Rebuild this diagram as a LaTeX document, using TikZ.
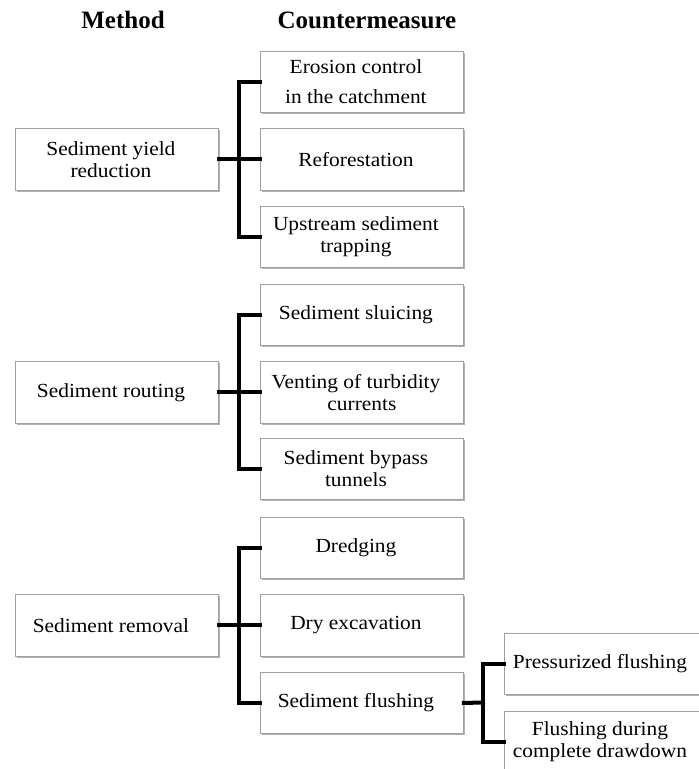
\documentclass[tikz,border=0pt]{standalone}
\usepackage{fontspec}
\setmainfont[FakeStretch=1.07]{Liberation Serif}
\newfontfamily\headfont{Liberation Serif}
\usetikzlibrary{shadows}
\definecolor{boxline}{HTML}{A0A0A0}
\newcommand\lft[1]{#1\kern12pt}
\tikzset{
  box/.style={draw=boxline, line width=0.9pt, fill=white, anchor=north west,
    minimum width=203pt, minimum height=62pt, inner sep=0pt, align=center,
    font=\fontsize{20}{22}\selectfont,
    drop shadow={shadow xshift=1.3pt, shadow yshift=-1.3pt, opacity=0.3, fill=black}},
  head/.style={font=\headfont\bfseries\fontsize{25}{28}\selectfont, anchor=base, inner sep=0pt},
  conn/.style={line width=4pt, black, line join=miter, line cap=rect},
}
\begin{document}
\begin{tikzpicture}[x=1pt, y=-1pt]
\useasboundingbox (0,0) rectangle (699,769);
\node[head] (hm) at (123,28.5) {Method};
\node[head] (hc) at (367,28.5) {Countermeasure};

% group 1
\node[box] (m1) at (15,128) {\lft{Sediment yield}\\\lft{reduction}};
\node[box, minimum height=61pt] (c1) at (260,51) {\lft{Erosion control}\\[8pt]\lft{in the catchment}};
\node[box] (c2) at (260,128) {\lft{Reforestation}};
\node[box, minimum height=61pt] (c3) at (260,206) {\lft{Upstream sediment}\\\lft{trapping}};
% group 2
\node[box] (m2) at (15,361) {\lft{Sediment routing}};
\node[box, minimum height=61pt] (c4) at (260,284) {\lft{Sediment sluicing}};
\node[box] (c5) at (260,361) {\lft{Venting of turbidity}\\currents};
\node[box, minimum height=61pt] (c6) at (260,438) {\lft{Sediment bypass}\\\lft{tunnels}};
% group 3
\node[box] (m3) at (15,594) {\lft{Sediment removal}};
\node[box, minimum height=61pt] (c7) at (260,517) {\lft{Dredging}};
\node[box] (c8) at (260,594) {\lft{Dry excavation}};
\node[box, minimum height=61pt] (c9) at (260,672) {\lft{Sediment flushing}};
\node[box, minimum height=61pt] (s1) at (504,633) {\lft{Pressurized flushing}};
\node[box, minimum height=61pt] (s2) at (504,711) {\lft{Flushing during}\\\lft{complete drawdown}};

% connectors
\coordinate (b1) at (238.5,159);
\coordinate (b2) at (238.5,392);
\coordinate (b3) at (238.5,625);
\coordinate (b4) at (483,702.5);
\draw[conn] (c1.west) -| (b1) |- (c3.west);
\draw[conn] (m1.east) -- (c2.west);
\draw[conn] (c4.west) -| (b2) |- (c6.west);
\draw[conn] (m2.east) -- (c5.west);
\draw[conn] (c7.west) -| (b3) |- (c9.west);
\draw[conn] (m3.east) -- (c8.west);
\draw[conn] (s1.west) -| (b4) |- (s2.west);
\draw[conn] (c9.east) -- (b4);
\end{tikzpicture}
\end{document}
